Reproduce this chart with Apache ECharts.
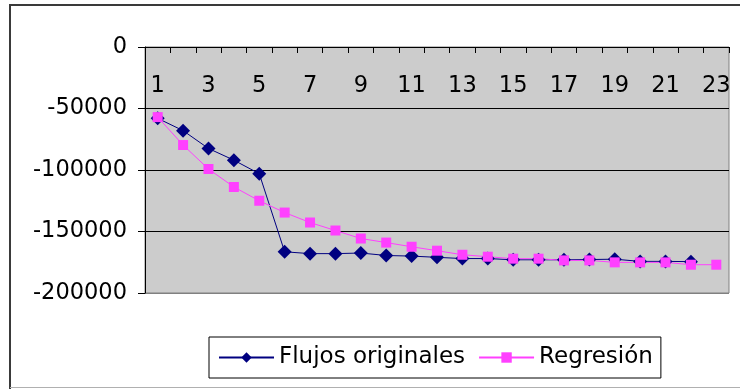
<!DOCTYPE html>
<html>
<head>
<meta charset="utf-8">
<script src="https://cdn.jsdelivr.net/npm/echarts@6/dist/echarts.min.js"></script>
<style>
  html, body { margin: 0; padding: 0; background: #ffffff; }
  #chart { width: 740px; height: 390px; }
</style>
</head>
<body>
<div id="chart"></div>
<script>
// Periods on the category axis
const periods = ['1','2','3','4','5','6','7','8','9','10','11','12','13','14','15','16','17','18','19','20','21','22','23'];

// Original cash flows (22 periods)
const flujosOriginales = [-58000, -68000, -82500, -92000, -103000, -166500, -168000, -168000,
  -167500, -169500, -170000, -171000, -172000, -172000, -173000, -173000, -173000,
  -172800, -172500, -174300, -174300, -174500];

// Regression fit (23 periods)
const regresion = [-57000, -79700, -99200, -113800, -125000, -134600, -142700, -149200,
  -155700, -159000, -162400, -165600, -168900, -170500, -172100, -172100, -173500,
  -173500, -175100, -175100, -175100, -177000, -177000];

// Value axis range
const yMin = -200000;
const yMax = 0;
const yStep = 50000;

const seriesNames = ['Flujos originales', 'Regresión'];

const FONT = 'DejaVu Sans';

const chart = echarts.init(document.getElementById('chart'), null, { renderer: 'canvas' });

chart.setOption({
  animation: false,
  backgroundColor: '#ffffff',
  textStyle: { fontFamily: FONT, color: '#000000' },
  graphic: [
    // outer frame of the chart area
    { type: 'polyline', shape: { points: [[10, 389], [10, 5], [740, 5]] },
      style: { stroke: '#3a3a3a', lineWidth: 2, fill: null }, silent: true },
    { type: 'line', shape: { x1: 10, y1: 387.5, x2: 740, y2: 387.5 },
      style: { stroke: '#b0b0b0', lineWidth: 1 }, silent: true }
  ],
  grid: {
    left: 145, top: 47, right: 11, bottom: 97,
    show: true,
    backgroundColor: '#cccccc',
    borderColor: '#808080',
    borderWidth: 1
  },
  legend: {
    left: 209, top: 337,
    padding: [9, 8, 9, 9],
    itemGap: 13,
    itemWidth: 55,
    itemHeight: 13,
    backgroundColor: '#ffffff',
    borderColor: '#000000',
    borderWidth: 1,
    borderRadius: 0,
    textStyle: { fontFamily: FONT, fontSize: 23, color: '#000000' },
    data: seriesNames
  },
  xAxis: {
    type: 'category',
    position: 'top',
    data: periods,
    boundaryGap: true,
    axisLine: { show: true, lineStyle: { color: '#000000', width: 1 } },
    axisTick: { show: true, inside: true, length: 6, interval: 0,
      lineStyle: { color: '#000000' } },
    axisLabel: { inside: true, interval: 1, margin: 28,
      fontFamily: FONT, fontSize: 22.5, color: '#000000' },
    splitLine: { show: false }
  },
  yAxis: {
    type: 'value',
    min: yMin, max: yMax, interval: yStep,
    axisLine: { show: true, lineStyle: { color: '#000000', width: 1 } },
    axisTick: { show: true, inside: false, length: 7, lineStyle: { color: '#000000' } },
    axisLabel: { margin: 18, fontFamily: FONT, fontSize: 22.5, color: '#000000',
      formatter: function (v) { return String(v); } },
    splitLine: { show: true,
      lineStyle: { color: ['#808080', '#000000', '#000000', '#000000', '#000000'], width: 1 } }
  },
  series: [
    {
      name: seriesNames[0],
      type: 'line',
      data: flujosOriginales,
      symbol: 'diamond',
      symbolSize: 14,
      lineStyle: { color: '#000080', width: 1 },
      itemStyle: { color: '#000080' }
    },
    {
      name: seriesNames[1],
      type: 'line',
      data: regresion,
      symbol: 'rect',
      symbolSize: 10,
      lineStyle: { color: '#ff40ff', width: 1 },
      itemStyle: { color: '#ff40ff' }
    }
  ]
});
</script>
</body>
</html>
